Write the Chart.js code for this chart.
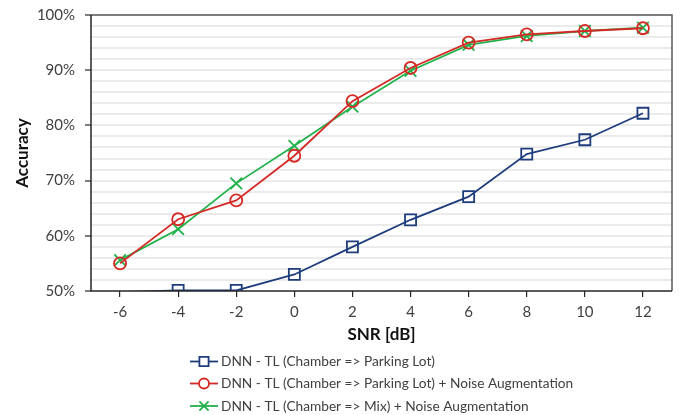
<!DOCTYPE html>
<html>
<head>
<meta charset="utf-8">
<script src="https://cdn.jsdelivr.net/npm/chart.js@4"></script>
<style>
  html, body { margin: 0; padding: 0; background: #fff; }
  #wrap { width: 682px; height: 415px; }
</style>
</head>
<body>
<div id="wrap"><canvas id="accChart" width="682" height="415"></canvas></div>
<script>
// SNR values on the x axis
const snrLabels = ['-6', '-4', '-2', '0', '2', '4', '6', '8', '10', '12'];

// accuracy in percent
const tlParking = [49.8, 50.1, 50.1, 53.0, 58.0, 62.9, 67.1, 74.8, 77.4, 82.2];
const tlParkingNoise = [55.0, 63.0, 66.4, 74.5, 84.4, 90.4, 95.0, 96.5, 97.1, 97.6];
const tlMixNoise = [55.6, 61.2, 69.5, 76.3, 83.4, 89.9, 94.6, 96.2, 97.1, 97.7];

const seriesNames = [
  'DNN - TL (Chamber => Parking Lot)',
  'DNN - TL (Chamber => Parking Lot) + Noise Augmentation',
  'DNN - TL (Chamber => Mix) + Noise Augmentation'
];

const yMin = 50, yMax = 100;

const blue = '#1f3d7c';
const red = '#d42a25';
const green = '#22b24c';
const textColor = '#404040';

// hide markers that fall below the visible range
function radiusFor(r) {
  return ctx => (ctx.raw < yMin ? 0 : r);
}

// box around the plot area
const frame = {
  id: 'frame',
  afterDatasetsDraw(chart) {
    const { ctx, chartArea: a } = chart;
    ctx.save();
    ctx.strokeStyle = '#595959';
    ctx.lineWidth = 1.5;
    ctx.beginPath();
    ctx.moveTo(a.left, a.top);
    ctx.lineTo(a.right, a.top);
    ctx.lineTo(a.right, a.bottom);
    ctx.stroke();
    ctx.strokeStyle = '#262626';
    ctx.beginPath();
    ctx.moveTo(a.left, a.top);
    ctx.lineTo(a.left, a.bottom);
    ctx.lineTo(a.right, a.bottom);
    ctx.stroke();
    ctx.restore();
  }
};

// legend stacked one entry per row, like the original
const stackedLegend = {
  id: 'stackedLegend',
  afterDraw(chart) {
    const { ctx } = chart;
    const x0 = 190, lineLen = 28, rowY = [361.5, 383.5, 406];
    ctx.save();
    chart.data.datasets.forEach((ds, i) => {
      const y = rowY[i];
      ctx.strokeStyle = ds.borderColor;
      ctx.lineWidth = ds.borderWidth;
      ctx.beginPath();
      ctx.moveTo(x0, y);
      ctx.lineTo(x0 + lineLen, y);
      ctx.stroke();
      ctx.fillStyle = '#fff';
      Chart.helpers.drawPoint(ctx, {
        pointStyle: ds.pointStyle,
        radius: ds.legendRadius,
        borderWidth: ds.borderWidth,
        rotation: 0
      }, x0 + lineLen / 2, y);
      ctx.fillStyle = textColor;
      ctx.font = '13.7px Lato';
      ctx.textBaseline = 'middle';
      ctx.fillText(ds.label, x0 + lineLen + 3, y + 0.5);
    });
    ctx.restore();
  }
};

function lineSet(label, data, color, style, r, legendR) {
  return {
    label: label,
    data: data,
    borderColor: color,
    backgroundColor: 'rgba(0,0,0,0)',
    pointBorderColor: color,
    pointBackgroundColor: 'rgba(0,0,0,0)',
    borderWidth: 1.8,
    pointBorderWidth: 1.8,
    pointStyle: style,
    pointRadius: radiusFor(r),
    pointHoverRadius: r,
    legendRadius: legendR,
    tension: 0
  };
}

new Chart(document.getElementById('accChart'), {
  type: 'line',
  data: {
    labels: snrLabels,
    datasets: [
      lineSet(seriesNames[0], tlParking, blue, 'rect', 7.8, 6.5),
      lineSet(seriesNames[1], tlParkingNoise, red, 'circle', 6, 5),
      lineSet(seriesNames[2], tlMixNoise, green, 'crossRot', 8.2, 6.5)
    ]
  },
  options: {
    responsive: false,
    animation: false,
    layout: { padding: { left: 0, top: 15, right: 4, bottom: 69 } },
    plugins: {
      legend: { display: false },
      tooltip: { enabled: false }
    },
    scales: {
      x: {
        type: 'category',
        offset: true,
        border: { display: false },
        grid: {
          offset: false,
          drawOnChartArea: false,
          drawTicks: true,
          tickLength: 6,
          tickColor: '#262626',
          lineWidth: 1.2
        },
        ticks: {
          color: textColor,
          font: { family: 'Lato', size: 15 },
          padding: 6,
          maxRotation: 0
        },
        title: {
          display: true,
          text: 'SNR [dB]',
          color: '#111',
          font: { family: 'Lato', size: 17, weight: 'bold' },
          padding: { top: 0, bottom: 1 }
        },
        afterFit(scale) {
          scale.height = 55;
          scale.paddingLeft = 0;
          scale.paddingRight = 0;
        }
      },
      y: {
        min: yMin,
        max: yMax,
        border: { display: false },
        grid: {
          color: ctx => (ctx.tick && ctx.tick.value === yMin ? 'rgba(0,0,0,0)' : '#ebebeb'),
          lineWidth: 2,
          tickLength: 6,
          tickColor: ctx => (ctx.tick && ctx.tick.value % 10 === 0 ? '#262626' : 'rgba(0,0,0,0)'),
          tickWidth: 1.2
        },
        ticks: {
          stepSize: 2,
          autoSkip: false,
          color: textColor,
          font: { family: 'Lato', size: 15 },
          padding: 10,
          callback: v => (v % 10 === 0 ? v + '%' : '')
        },
        title: {
          display: true,
          text: 'Accuracy',
          color: '#111',
          font: { family: 'Lato', size: 17, weight: 'bold' },
          padding: { top: 12, bottom: 0 }
        },
        afterFit(scale) {
          scale.width = 91;
          scale.paddingTop = 0;
          scale.paddingBottom = 0;
        }
      }
    }
  },
  plugins: [frame, stackedLegend]
});
</script>
</body>
</html>
